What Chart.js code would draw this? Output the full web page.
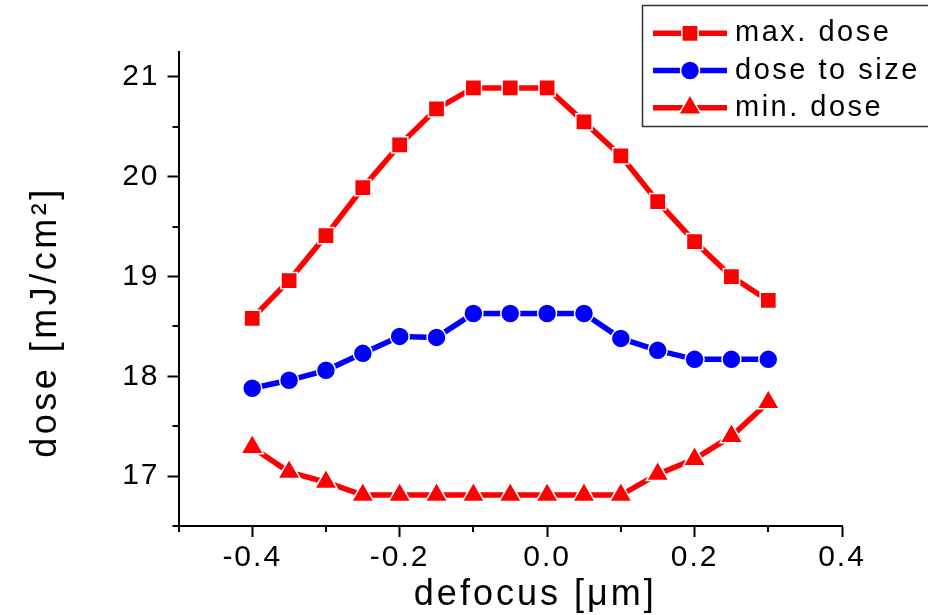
<!DOCTYPE html>
<html><head><meta charset="utf-8">
<script src="https://cdn.jsdelivr.net/npm/chart.js@4.4.0/dist/chart.umd.min.js"></script>
<style>html,body{margin:0;padding:0;background:#fff}#wrap{width:928px;height:615px}</style>
</head><body><div id="wrap"><canvas id="c" width="928" height="615"></canvas></div>
<script>
const defocus    = [-0.4,-0.35,-0.3,-0.25,-0.2,-0.15,-0.1,-0.05,0.0,0.05,0.1,0.15,0.2,0.25,0.3];
const maxDose    = [18.58,18.96,19.41,19.89,20.32,20.68,20.89,20.89,20.89,20.55,20.21,19.75,19.35,19.00,18.76];
const doseToSize = [17.88,17.96,18.06,18.23,18.40,18.39,18.63,18.63,18.63,18.63,18.38,18.26,18.17,18.17,18.17];
const minDose    = [17.29,17.04,16.94,16.81,16.81,16.81,16.81,16.81,16.81,16.81,16.81,17.02,17.17,17.40,17.74];
const seriesNames = ['max. dose','dose to size','min. dose'];
const xMajorTicks = [-0.4,-0.2,0.0,0.2,0.4];
const xTickLabels = ['-0.4','-0.2','0.0','0.2','0.4'];
const xMinorTicks = [-0.5,-0.3,-0.1,0.1,0.3];
const yMajorTicks = [17,18,19,20,21];
const yTickLabels = ['17','18','19','20','21'];
const yMinorTicks = [16.5,17.5,18.5,19.5,20.5];
const xTitle = 'defocus [\u03bcm]';
const yTitle = 'dose [mJ/cm\u00b2]';

const FAMILY = '"Liberation Sans", Arial, Helvetica, sans-serif';
const RED = '#ff0000', BLUE = '#0000ff';

function pts(ys){ return defocus.map((x,i)=>({x:x, y:ys[i]})); }
function isIn(arr, v){ return arr.findIndex(m=>Math.abs(m-v)<1e-9); }

const spacing = {
  id:'spacing',
  beforeUpdate(chart){ chart.ctx.letterSpacing = '2px'; },
  beforeDraw(chart){ chart.ctx.letterSpacing = '2px'; }
};

const decor = {
  id:'decor',
  afterDraw(chart){
    const ctx = chart.ctx, xs = chart.scales.x, ys = chart.scales.y;
    ctx.save();
    ctx.strokeStyle = '#000'; ctx.lineWidth = 2;
    xMinorTicks.forEach(v=>{
      const px = Math.round(xs.getPixelForValue(v));
      ctx.beginPath(); ctx.moveTo(px, ys.bottom); ctx.lineTo(px, ys.bottom+6); ctx.stroke();
    });
    yMinorTicks.forEach(v=>{
      const py = Math.round(ys.getPixelForValue(v));
      ctx.beginPath(); ctx.moveTo(xs.left, py); ctx.lineTo(xs.left-6, py); ctx.stroke();
    });
    // axis titles
    ctx.fillStyle = '#000';
    ctx.font = '36px ' + FAMILY;
    ctx.letterSpacing = '3px';
    ctx.textAlign = 'center'; ctx.textBaseline = 'alphabetic';
    ctx.fillText(xTitle, (xs.left+xs.right)/2 + 25, 605);
    ctx.save();
    ctx.translate(56, (ys.top+ys.bottom)/2 + 33);
    ctx.rotate(-Math.PI/2);
    ctx.letterSpacing = '3.5px';
    ctx.fillText(yTitle, 0, 0);
    ctx.restore();
    // legend
    ctx.fillStyle = '#fff';
    ctx.fillRect(642, 5, 300, 122);
    ctx.strokeStyle = '#333'; ctx.lineWidth = 1.5;
    ctx.strokeRect(642.5, 5.5, 300, 121);
    chart.data.datasets.forEach((ds,i)=>{
      const cy = 33.3 + i*37.2;
      ctx.strokeStyle = ds.borderColor; ctx.lineWidth = ds.borderWidth;
      ctx.beginPath(); ctx.moveTo(653, cy); ctx.lineTo(727, cy); ctx.stroke();
      ctx.fillStyle = ds.pointBackgroundColor; ctx.strokeStyle = '#fff';
      ctx.lineWidth = ds.pointBorderWidth;
      Chart.helpers.drawPoint(ctx, {pointStyle: ds.pointStyle, radius: ds.pointRadius, rotation:0, borderWidth: ds.pointBorderWidth}, 690, cy);
      ctx.fillStyle = '#000';
      ctx.font = '29px ' + FAMILY;
      ctx.letterSpacing = '2.5px';
      ctx.textAlign = 'left'; ctx.textBaseline = 'middle';
      ctx.fillText(ds.label, 735, cy);
    });
    ctx.restore();
  }
};

function mkDs(label, ys, color, style, r){
  return {label:label, data:pts(ys), borderColor:color, backgroundColor:color,
    borderWidth:5.5, pointStyle:style, pointRadius:r, pointHoverRadius:r,
    pointBackgroundColor:color, pointBorderColor:'#fff', pointBorderWidth:1.5, tension:0};
}

new Chart(document.getElementById('c'), {
  type:'line',
  data:{ datasets:[
    mkDs(seriesNames[0], maxDose, RED, 'rect', 11.5),
    mkDs(seriesNames[1], doseToSize, BLUE, 'circle', 9.5),
    mkDs(seriesNames[2], minDose, RED, 'triangle', 13)
  ]},
  options:{
    responsive:false, animation:false, devicePixelRatio:1,
    layout:{padding:{top:52, right:86, left:0, bottom:0}},
    plugins:{legend:{display:false}, tooltip:{enabled:false}},
    scales:{
      x:{type:'linear', min:-0.5, max:0.4,
        afterBuildTicks:s=>{ s.ticks = xMinorTicks.concat(xMajorTicks).sort((a,b)=>a-b).map(v=>({value:v})); },
        ticks:{autoSkip:false, maxRotation:0, color:'#000', padding:3, font:{size:30, family:FAMILY},
          callback:v=>{ const i = isIn(xMajorTicks, v); return i>=0 ? xTickLabels[i] : ''; }},
        grid:{drawOnChartArea:false, tickLength:11, tickWidth:2,
          tickColor:c=> (c.tick && isIn(xMajorTicks, c.tick.value)>=0) ? '#000' : 'rgba(0,0,0,0)'},
        border:{display:true, color:'#000', width:2},
        afterFit:s=>{ s.height = 89; }
      },
      y:{type:'linear', min:16.5, max:21.25,
        afterBuildTicks:s=>{ s.ticks = yMinorTicks.concat(yMajorTicks).sort((a,b)=>a-b).map(v=>({value:v})); },
        ticks:{autoSkip:false, color:'#000', padding:8, font:{size:30, family:FAMILY},
          callback:v=>{ const i = isIn(yMajorTicks, v); return i>=0 ? yTickLabels[i] : ''; }},
        grid:{drawOnChartArea:false, tickLength:11, tickWidth:2,
          tickColor:c=> (c.tick && isIn(yMajorTicks, c.tick.value)>=0) ? '#000' : 'rgba(0,0,0,0)'},
        border:{display:true, color:'#000', width:2},
        afterFit:s=>{ s.width = 178.5; }
      }
    }
  },
  plugins:[spacing, decor]
});
</script>
</body></html>
